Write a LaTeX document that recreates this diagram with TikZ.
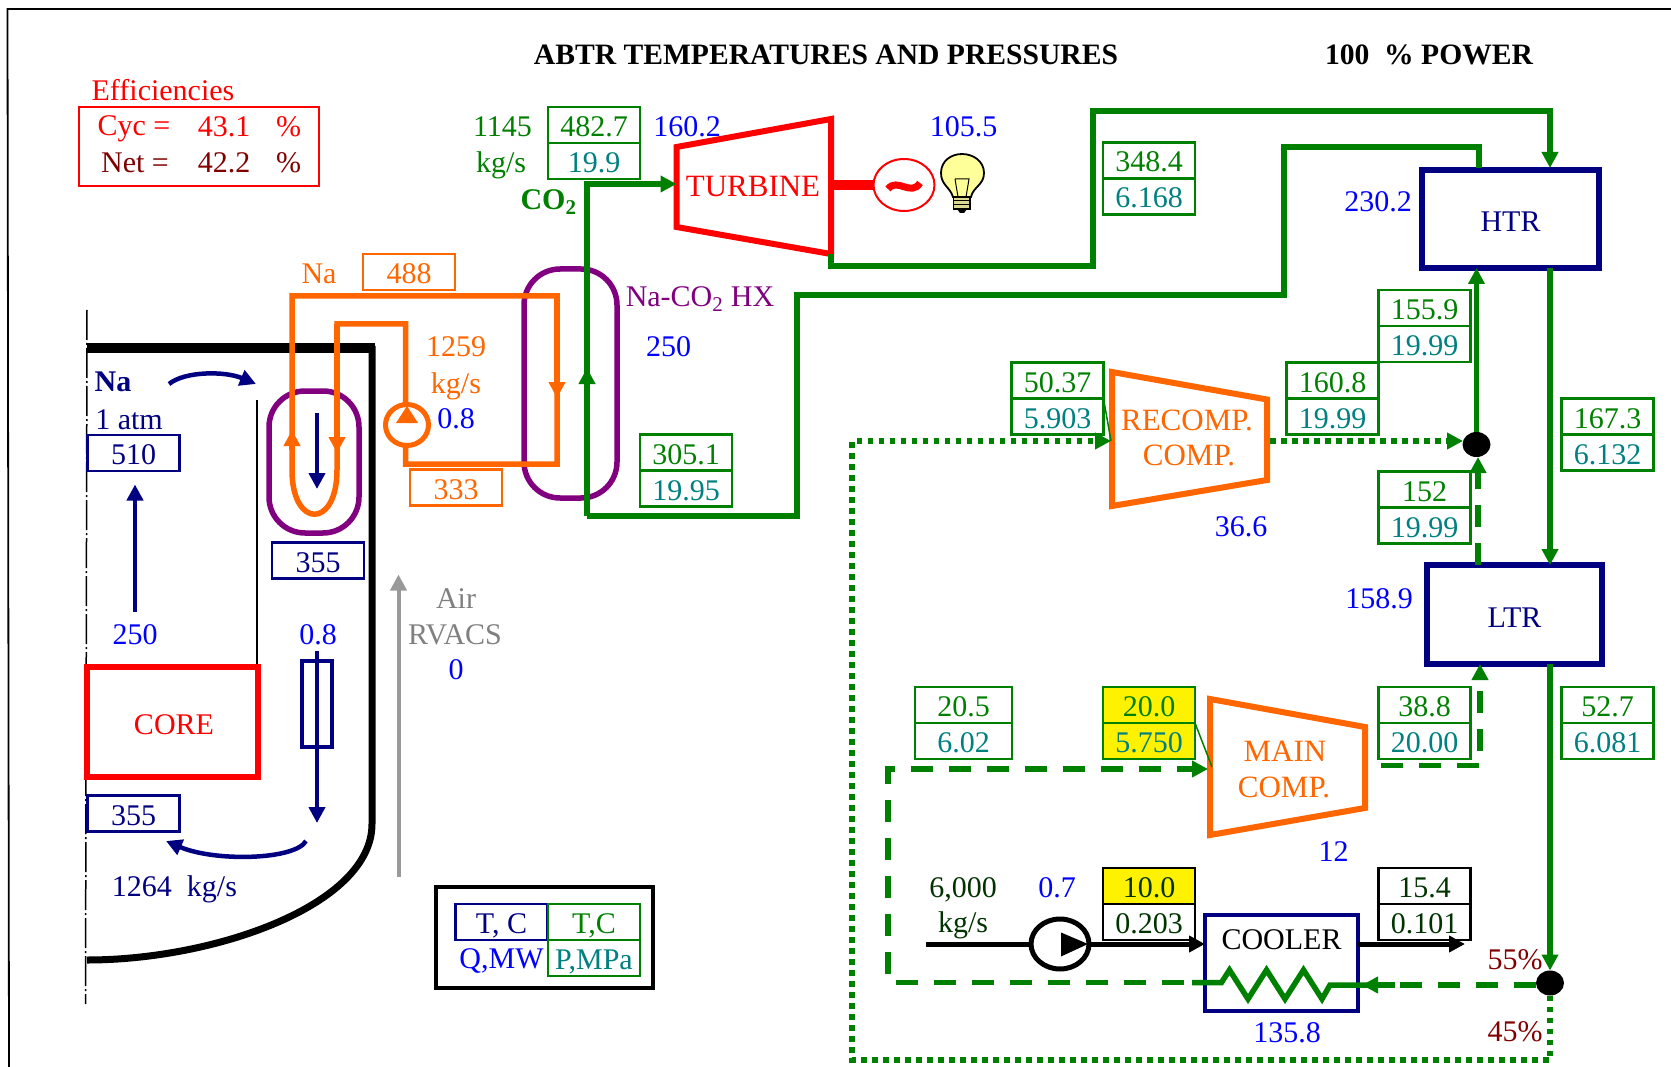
\documentclass[tikz,border=0pt]{standalone}
\usepackage{fontspec}
\setmainfont{Liberation Serif}
\usetikzlibrary{arrows.meta,positioning,shapes.geometric}

\definecolor{navyc}{RGB}{0,0,128}
\definecolor{greenc}{RGB}{0,128,0}
\definecolor{tealc}{RGB}{0,128,128}
\definecolor{orangec}{RGB}{255,102,0}
\definecolor{purplec}{RGB}{128,0,128}
\definecolor{bluec}{RGB}{0,0,255}
\definecolor{redc}{RGB}{255,0,0}
\definecolor{dredc}{RGB}{128,0,0}
\definecolor{dgreenc}{RGB}{0,51,0}
\definecolor{grayc}{RGB}{153,153,153}
\definecolor{graytc}{RGB}{128,128,128}
\definecolor{bulbc}{RGB}{255,255,153}

\tikzset{
  every node/.style={font=\fontsize{30}{34}\selectfont,inner sep=0pt,outer sep=0pt},
  bigcaps/.style={font=\fontsize{31}{34}\selectfont},
  headfont/.style={font=\fontsize{29.6}{34}\selectfont\bfseries},
  boldfont/.style={font=\fontsize{30}{34}\selectfont\bfseries},
  cell/.style={draw,line width=2.5pt,minimum width=92pt,minimum height=36pt,text height=23pt,text depth=0pt},
  tcell/.style={cell,draw=greenc,text=greenc},
  pcell/.style={cell,draw=greenc,text=tealc},
  ycell/.style={fill=yellow},
  wcell/.style={cell,draw=black,text=dgreenc},
  nacell/.style={cell,draw=navyc,text=navyc},
  orcell/.style={cell,draw=orangec,text=orangec},
  power/.style={text=bluec},
  recup/.style={draw=navyc,line width=6pt,text=navyc,text height=25pt,text depth=0pt},
  junction/.style={ellipse,fill=black,minimum width=28pt,minimum height=25pt},
  coline/.style={greenc,line width=5.5pt},
  dashco/.style={coline,dash pattern=on 22pt off 16pt},
  dotco/.style={coline,dash pattern=on 5.5pt off 5.5pt},
  naline/.style={orangec,line width=5.5pt},
  pooline/.style={navyc,line width=4.2pt},
  waterline/.style={black,line width=5pt},
  compr/.style={orangec,line width=6pt},
  hxwall/.style={purplec,line width=5.5pt,rounded corners=36pt},
}

\begin{document}
\begin{tikzpicture}[x=1pt,y=-1pt,>={Triangle[length=16pt,width=16pt]}]
  \useasboundingbox (0,0) rectangle (1671,1067);
  \draw[line width=1.8pt] (9,1067) -- (7.5,9) -- (1671,9);

  % heading and efficiencies
  \node[headfont] (title) at (826,55) {ABTR TEMPERATURES AND PRESSURES};
  \node[headfont] (level) at (1429,55) {100\ \ \% POWER};
  \node[text=redc] (efftitle) at (163,90) {Efficiencies};
  \node[draw=redc,line width=2pt,minimum width=240pt,minimum height=79pt] (effbox) at (199,146.5) {};
  \node[text=redc] (cyclab) at (134,129) {Cyc =};
  \node[text=redc] (cycval) at (224,127) {43.1};
  \node[text=redc] (cycpc) at (288.5,127) {\%};
  \node[text=dredc] (netlab) at (135,163) {Net =};
  \node[text=dredc] (netval) at (224,163) {42.2};
  \node[text=dredc] (netpc) at (288.5,163) {\%};

  % vessel
  \draw[line width=10pt] (87,348.5) -- (375,348.5);
  \draw[line width=7pt] (372,346) -- (372,824)
    .. controls (372,905) and (215,960) .. (87,960);
  \draw[line width=1.5pt,dash pattern=on 30pt off 3pt on 2pt off 3pt] (87,310) -- (85.5,1004);
  \draw[line width=1.8pt] (257,400) -- (257,667);
  \node[draw=redc,line width=6pt,text=redc,minimum width=171pt,minimum height=110pt,text height=25pt,text depth=0pt] (core) at (172.5,722) {\hspace{3pt}CORE};

  % pool side
  \node[text=navyc,boldfont] (nalab) at (113,382) {Na};
  \node[text=navyc] (atmlab) at (129,420) {1 atm};
  \node[nacell] (tcore) at (133.5,453) {510};
  \node[nacell] (tihx) at (318,560.5) {355};
  \node[nacell] (tinlet) at (133.5,813.5) {355};
  \node[power] (qcore) at (135,634.5) {250};
  \node[power] (qpump) at (318,634.5) {0.8};
  \node[text=navyc] (poolflow) at (174.5,889.5) {1264\ \ kg/s};
  \coordinate (coretop) at (135,611.5);
  \coordinate (plenum) at (135,484.5);
  \draw[pooline,->] (coretop) -- (plenum);
  \draw[navyc,line width=4.5pt,->] (169,384) .. controls (185,371) and (225,371) .. (256,384);
  \draw[navyc,line width=4.5pt,->] (306,841) .. controls (295,860) and (215,862) .. (166,841);
  \node[draw=navyc,line width=3.5pt,minimum width=30pt,minimum height=86pt] (pumpbox) at (317,704) {};
  \coordinate (pumptop) at (317,651);
  \coordinate (pumpend) at (317,823);
  \draw[pooline,->] (pumptop) -- (pumpend);
  \coordinate (ihxtop) at (317,413);
  \coordinate (ihxend) at (317,489);
  \draw[pooline,->] (ihxtop) -- (ihxend);

  % sodium loop
  \draw[hxwall] (269,391) rectangle (359,533);
  \draw[hxwall] (524,269) rectangle (617,498);
  \coordinate (ihxhot) at (292,296);
  \coordinate (hxhot) at (557,296);
  \coordinate (hxcold) at (557,464);
  \coordinate (napump) at (405.5,464);
  \coordinate (nacold) at (337,324);
  \draw[naline] (ihxhot) -- (hxhot) -- (hxcold) -- (napump) -- (405.5,324) -- (nacold) -- (337,470)
    .. controls (337,529) and (292,529) .. (292,470) -- cycle;
  \draw[naline,->] (292,450) -- (292,430);
  \draw[naline,->] (nacold) -- (337,453);
  \draw[naline,->] (hxhot) -- (557,398);
  \node[ellipse,draw=orangec,fill=white,line width=5pt,minimum width=43pt,minimum height=41pt] (nacirc) at (407,425) {};
  \fill[orangec] (407,406) -- (418,423) -- (396,423) -- cycle;
  \node[text=orangec] (nalabel) at (319,274) {Na};
  \node[orcell] (tnahot) at (409,272) {488};
  \node[orcell] (tnacold) at (456,487.5) {333};
  \node[text=orangec] (naflow) at (456,347) {1259};
  \node[text=orangec] (naunit) at (456,386) {kg/s};
  \node[power] (qnapump) at (456,419) {0.8};
  \node[text=purplec] (hxname) at (700,299) {Na-CO\textsubscript{2} HX};
  \node[power] (qhx) at (668.5,347) {250};

  % RVACS
  \coordinate (airin) at (398.5,876.5);
  \coordinate (airout) at (398.5,574.5);
  \draw[grayc,line width=4pt,->] (airin) -- (airout);
  \node[text=graytc] (airlab) at (456,598.5) {Air};
  \node[text=graytc] (rvacs) at (455,634.5) {RVACS};
  \node[power] (qrvacs) at (456,670) {0};

  % key
  \node[draw,line width=4pt,minimum width=217pt,minimum height=101pt] (key) at (544,937.5) {};
  \node[nacell] (keyt) at (501.5,922) {T, C};
  \node[tcell] (keytc) at (594,922) {T,C};
  \node[pcell,below=0pt of keytc] (keyp) {P,MPa};
  \node[text=bluec] (keyq) at (501.5,961) {Q,MW};

  % turbine and generator
  \coordinate (tbin) at (676.5,184);
  \coordinate (tbout) at (831,254);
  \draw[redc,line width=6pt] (676.5,147) -- (831,119) -- (tbout) -- (676.5,227) -- cycle;
  \node[text=redc,bigcaps] (turbine) at (753,187) {TURBINE};
  \node[ellipse,draw=redc,line width=2pt,minimum width=61pt,minimum height=52pt] (gen) at (904,185) {};
  \coordinate (shaft) at (831,185);
  \draw[redc,line width=10pt] (shaft) -- (gen.west);
  \draw[redc,line width=7pt] (888,189) .. controls (897,177) and (911,197) .. (920,183);
  \node[power] (qgen) at (963.5,127) {105.5};
  \draw[fill=bulbc,line width=1.8pt] (953,197) .. controls (950,187) and (941,185) .. (941,173)
    .. controls (941,161) and (951,154) .. (962,154) .. controls (973,154) and (984,161) .. (984,173)
    .. controls (984,185) and (973,187) .. (971,197) -- cycle;
  \draw[line width=1pt] (955,179) -- (969,179) -- (966,197) (955,179) -- (958,197);
  \draw[fill=bulbc!70!gray,line width=1.2pt] (953.5,197) rectangle (970,209);
  \draw[line width=1pt] (953.5,201) -- (970,201) (953.5,205) -- (970,205);
  \fill (957,209) -- (967,209) -- (964,213) -- (960,213) -- cycle;

  % recuperators
  \node[recup,minimum width=177pt,minimum height=98pt] (htr) at (1510.5,219) {HTR};
  \node[recup,minimum width=175pt,minimum height=99pt] (ltr) at (1514.5,614.5) {LTR};
  \node[power] (qhtr) at (1378,202) {230.2};
  \node[power] (qltr) at (1379,598.5) {158.9};
  \node[junction] (mix) at (1476.5,444.5) {};
  \node[junction] (split) at (1550,983) {};

  % CO2 circuit
  \coordinate (hxbot) at (587,516);
  \coordinate (htrcold) at (1479,168);
  \coordinate (htrhot) at (1550,168);
  \coordinate (htrout) at (1550,268);
  \coordinate (ltrin) at (1550,565);
  \coordinate (ltrout) at (1550,664);
  \coordinate (mixup) at (1476.5,268);
  \coordinate (ltrcold) at (1478,565);
  \draw[coline,->] (hxbot) -- (587,184) -- (tbin);
  \draw[coline,->] (hxbot) -- (587,368);
  \draw[coline] (hxbot) -- (797,516) -- (797,295) -- (1284,295) -- (1284,147) -- (1479,147) -- (htrcold);
  \draw[coline,->] (tbout) -- (831,266) -- (1093,266) -- (1093,111) -- (1550,111) -- (htrhot);
  \draw[coline,->] (htrout) -- (ltrin);
  \draw[coline,->] (ltrout) -- (split.north);
  \draw[coline,->] (mix.north) -- (mixup);
  \draw[dashco,->] (ltrcold) -- (1478,457);

  % recompressor
  \coordinate (rcin) at (1111,441);
  \coordinate (rcout) at (1270,441);
  \coordinate (mixin) at (1463,441);
  \draw[compr] (1112,372) -- (1267,399.5) -- (1267,480) -- (1112,506) -- cycle;
  \node[text=orangec,bigcaps] (rclab) at (1187,420) {RECOMP.};
  \node[text=orangec,bigcaps] (rclabb) at (1189,455.5) {COMP.};
  \node[power] (qrc) at (1241,527) {36.6};
  \draw[dotco,->] (split.south) -- (1550,1060) -- (852,1060) -- (852,441) -- (rcin);
  \draw[dotco,->] (rcout) -- (mixin);

  % main compressor
  \coordinate (mcin) at (1208,769);
  \coordinate (mcout) at (1381,765.5);
  \draw[compr] (1210,699) -- (1365,727) -- (1365,808) -- (1210,835) -- cycle;
  \node[text=orangec,bigcaps] (mclab) at (1285,751) {MAIN};
  \node[text=orangec,bigcaps] (mclabb) at (1284,787) {COMP.};
  \node[power] (qmc) at (1333.5,852) {12};
  \draw[dashco,->] (mcout) -- (1480,765.5) -- (1480,664);

  % cooler
  \node[draw=navyc,line width=4pt,minimum width=153pt,minimum height=95.5pt] (cooler) at (1281.5,963) {};
  \node (coolab) at (1281.5,940) {COOLER};
  \node[power] (qcool) at (1287,1032.5) {135.8};
  \coordinate (coilin) at (1221.5,982.5);
  \coordinate (coilout) at (1330,985);
  \coordinate (splitin) at (1536,985);
  \draw[dashco] (coilin) -- (888,982.5) -- (888,769) -- (mcin);
  \draw[coline,->] (1190,769) -- (mcin);
  \draw[coline] (1192,982.5) -- (coilin) -- (1229.5,970) -- (1248,999) -- (1266.5,970) -- (1285,999) -- (1303.5,970) -- (1322,999) -- (coilout) -- (1380,985);
  \draw[coline,->] (1395,985) -- (1362,985);
  \draw[dashco] (splitin) -- (1395,985);

  % water side
  \coordinate (wtin) at (926,944);
  \coordinate (wtout) at (1465,944);
  \node[ellipse,draw=black,line width=5pt,minimum width=58pt,minimum height=50pt] (wtpump) at (1060,944) {};
  \fill (1061,932.5) -- (1088,944) -- (1061,956.5) -- cycle;
  \draw[waterline] (wtin) -- (wtpump.west);
  \draw[waterline,->] (wtpump.east) -- (cooler.west |- wtpump.east);
  \draw[waterline,->] (cooler.east |- wtout) -- (wtout);
  \node[text=dgreenc] (wtflow) at (963,889.5) {6,000};
  \node[text=dgreenc] (wtunit) at (963,925.5) {kg/s};
  \node[power] (qwt) at (1057,888) {0.7};
  \node[text=dredc] (pctup) at (1515,960) {55\%};
  \node[text=dredc] (pctdown) at (1515,1032) {45\%};

  % states
  \node[tcell] (ta) at (594,125) {482.7};
  \node[pcell,below=0pt of ta] (pa) {19.9};
  \node[text=greenc] (coflow) at (502.5,127) {1145};
  \node[text=greenc] (counit) at (501,165) {kg/s};
  \node[text=greenc,boldfont] (colab) at (548.5,202) {CO\textsubscript{2}};
  \node[power] (qtb) at (687,127) {160.2};
  \node[tcell] (tb) at (1149,160.5) {348.4};
  \node[pcell,below=0pt of tb] (pb) {6.168};
  \node[tcell] (tc) at (1424.5,308) {155.9};
  \node[pcell,below=0pt of tc] (pc) {19.99};
  \node[tcell] (td) at (1332.5,380.5) {160.8};
  \node[pcell,below=0pt of td] (pd) {19.99};
  \node[tcell] (te) at (1057.5,380.5) {50.37};
  \node[pcell,below=0pt of te] (pe) {5.903};
  \node[tcell] (tf) at (1607.5,416.5) {167.3};
  \node[pcell,below=0pt of tf] (pf) {6.132};
  \node[tcell] (tg) at (1424.5,489.5) {152};
  \node[pcell,below=0pt of tg] (pg) {19.99};
  \node[tcell] (th) at (686,452.5) {305.1};
  \node[pcell,below=0pt of th] (ph) {19.95};
  \node[tcell,minimum width=97pt] (ti) at (963.5,705) {20.5};
  \node[pcell,minimum width=97pt,below=0pt of ti] (pi) {6.02};
  \node[tcell,ycell] (tj) at (1149,705) {20.0};
  \node[pcell,ycell,below=0pt of tj] (pj) {5.750};
  \node[tcell] (tk) at (1424.5,705) {38.8};
  \node[pcell,below=0pt of tk] (pk) {20.00};
  \node[tcell] (tl) at (1607.5,705) {52.7};
  \node[pcell,below=0pt of tl] (pl) {6.081};
  \node[wcell,ycell] (tm) at (1149,886) {10.0};
  \node[wcell,below=0pt of tm] (pm) {0.203};
  \node[wcell] (tn) at (1424.5,886) {15.4};
  \node[wcell,below=0pt of tn] (pn) {0.101};
  \draw[greenc,line width=1.5pt] (pe.north east) -- (rcin);
  \draw[greenc,line width=1.5pt] (pj.north east) -- (1212,767);
\end{tikzpicture}
\end{document}
